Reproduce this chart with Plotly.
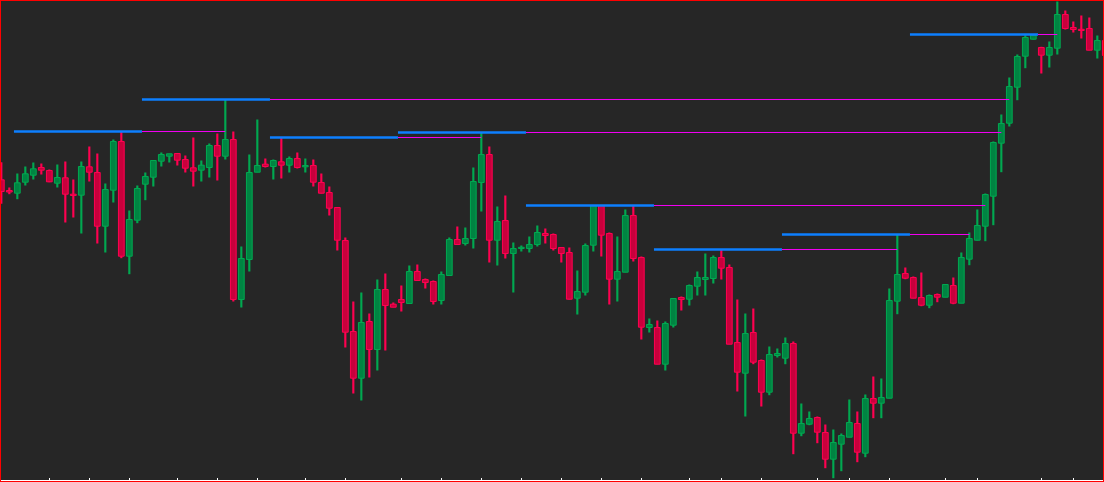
import plotly.graph_objects as go

# OHLC values (arbitrary price units)
opens = [300.7, 290, 287.3, 298.3, 305.3, 313, 310, 297.3, 302.7, 286.3,
         285.3, 313.7, 308, 254.3, 290.3, 339, 224.3, 260.3, 296.3, 303.3,
         319.3, 324.3, 327, 321, 312.7, 310.3, 313, 335, 324.3, 341,
         181, 221, 308.3, 316.3, 314, 318.7, 315.3, 322, 313.7, 315,
         298, 288, 273, 240, 149, 102.3, 159, 131, 191, 176.3,
         181, 177, 209, 201, 199, 180, 205, 241, 237, 242,
         298, 326, 240.3, 260, 227, 232, 232, 236, 247, 246,
         233, 228, 182.3, 188.3, 235.3, 275, 247, 201.3, 208.3, 265,
         223, 153, 153, 116.3, 155.3, 183, 181.3, 194.3, 201, 202,
         223, 213, 138, 107.3, 148, 120, 88.3, 125, 122.3, 137,
         47.3, 56.3, 63, 48, 21.3, 36.3, 43.3, 57, 27.3, 82,
         77.3, 82.3, 179.3, 207, 203, 183, 175.3, 186, 183.3, 195,
         177.3, 221.3, 240.3, 254.3, 284.3, 337.3, 357.3, 393.3, 424.3, 441.3,
         433, 425.3, 432.3, 466, 453, 451, 452, 430.3, 440]
highs = [318.3, 293, 307, 314, 318, 317, 311, 316, 319, 301,
         319, 334, 327, 297, 341, 349, 270, 295, 308, 320,
         328, 326.7, 327, 325, 343, 320, 337, 347, 381, 349,
         234, 326, 361, 322, 321, 343, 324, 328, 322, 321,
         307, 294, 273, 243, 179, 188, 167, 201, 207, 178,
         195, 215, 216, 202, 200, 209, 243, 254, 253, 313,
         348, 334, 274, 285, 238, 235, 244, 255, 252, 247,
         233, 233, 210, 237, 275, 275, 248, 244, 271, 275,
         224, 162, 160, 159, 182, 184, 196, 209, 227, 225,
         231, 216, 181, 167, 172, 121, 134, 132, 143, 139,
         77, 69, 64, 56, 51, 47, 81, 69, 86, 104,
         102, 192, 246, 213, 204, 208, 186, 187, 196, 203,
         228, 248, 271, 287, 339, 366, 403, 426, 445.3, 446,
         433.7, 439, 479, 470, 459, 465, 463, 445, 445]
lows = [276.7, 286.3, 281.3, 295, 301, 306, 298.3, 293, 258, 263,
        247, 299, 237, 228, 278, 222.3, 206.3, 257.3, 280.3, 294,
        314, 318, 315, 308, 294, 299, 303, 300, 321, 179,
        173, 209, 308.3, 313, 301, 302, 308, 312, 308, 294,
        287, 265, 230, 133, 87, 80, 103, 110, 130, 173.3,
        169, 177, 200, 192, 176, 176, 205, 236, 235, 232,
        269, 218, 215, 222, 188, 229, 228, 234, 237, 230,
        218, 181, 166, 185, 229, 224, 176, 179, 208.3, 219,
        141, 148, 116.3, 110, 153, 170, 175, 185, 185, 197,
        201, 136.3, 89, 64, 116.3, 74, 85.3, 123, 116.3, 26.3,
        44.3, 55.3, 37.3, 12.3, 2.3, 9.3, 43.3, 18.3, 23.3, 62.3,
        62.3, 82.3, 166.3, 201.3, 182.3, 174.3, 172.3, 178.3, 183.3, 176.3,
        177.3, 215.3, 240, 239.3, 255.3, 308.3, 354, 380.3, 412.3, 441,
        407, 413, 426, 451, 448, 442, 430.3, 422, 422]
closes = [289, 288.5, 297.7, 306.7, 311.7, 310.3, 298.7, 303, 286.3, 285,
          314, 308.3, 254.3, 291, 339, 224.3, 261, 292, 304, 320,
          326, 326.7, 320.3, 312.3, 309.3, 315.3, 335, 324.3, 341, 181,
          222, 308, 315, 314, 320, 315.3, 322, 313, 315, 298.3,
          287.3, 272.3, 240.3, 148.3, 102.3, 158, 131, 191, 175, 173.3,
          178, 209, 200, 198, 179, 206, 241, 236, 242, 299,
          326, 240.3, 259, 227, 232, 233, 236, 248, 245, 232,
          227, 181.3, 189, 235, 275, 245.3, 201.3, 209, 265, 222,
          153.3, 156, 116.3, 157, 182, 181, 195, 203, 203, 223,
          212.3, 136.3, 108.3, 147, 118.3, 88.3, 126, 127, 137, 47.3,
          57, 62, 48.3, 21.3, 38, 45, 58, 28.3, 82, 77.3,
          83, 180, 206, 202.3, 182.3, 175.3, 185, 183.3, 196, 177.3,
          223, 242, 255, 286, 338, 357, 394, 424, 443, 445.3,
          425.3, 433, 466, 452, 451, 450, 430.3, 440, 425]

# bars where the time axis puts a tick
tick_bars = [0, 6, 11, 16, 22, 27, 32, 38, 43, 50, 55, 60, 65, 70, 75, 80,
             86, 90, 95, 102, 106, 111, 118, 122, 130, 134]

# period high indicator: first period starts at bar 2, 16 bars each
period_start = 2
period_len = 16

UP_LINE, UP_FILL = '#00a850', '#008442'
DN_LINE, DN_FILL = '#ff0050', '#c8003c'

n = len(closes)
xs = list(range(n))
up = [c >= o for o, c in zip(opens, closes)]

fig = go.Figure()

# wicks
fig.add_trace(go.Bar(
    x=xs, base=lows, y=[h - l for h, l in zip(highs, lows)],
    width=0.27,
    marker=dict(color=[UP_LINE if u else DN_LINE for u in up], line=dict(width=0)),
    hoverinfo='skip', showlegend=False))

# bodies
fig.add_trace(go.Bar(
    x=xs, base=[min(o, c) for o, c in zip(opens, closes)],
    y=[max(abs(c - o), 1.2) for o, c in zip(opens, closes)],
    width=0.72,
    marker=dict(color=[UP_FILL if u else DN_FILL for u in up],
                line=dict(color=[UP_LINE if u else DN_LINE for u in up], width=1)),
    hoverinfo='skip', showlegend=False))

# period highs (blue) and their extension until price trades through (magenta)
for s in range(period_start, n - period_len + 1, period_len):
    e = s + period_len
    level = max(highs[s:e])
    brk = next((k for k in range(e, n) if highs[k] >= level), n - 1)
    fig.add_trace(go.Scatter(x=[e - 0.42, brk], y=[level, level], mode='lines',
                             line=dict(color='#f000f0', width=1),
                             hoverinfo='skip', showlegend=False))
    fig.add_trace(go.Scatter(x=[s - 0.42, e - 0.42], y=[level, level], mode='lines',
                             line=dict(color='#0d7fff', width=2.5),
                             hoverinfo='skip', showlegend=False))

fig.update_layout(
    width=1104, height=482,
    margin=dict(l=1, r=1, t=1, b=2, pad=0, autoexpand=False),
    paper_bgcolor='#ff0000',
    plot_bgcolor='#262626',
    barmode='overlay',
    xaxis=dict(range=[-0.04, 137.71], showgrid=False, zeroline=False,
               showline=True, linecolor='#ffffff', linewidth=1,
               tickmode='array', tickvals=tick_bars, ticks='inside',
               ticklen=2, tickcolor='#ffffff', tickwidth=1,
               showticklabels=False, fixedrange=True),
    # half-unit offset keeps the 1px level lines on whole pixel rows
    yaxis=dict(range=[0.5, 479.5], showgrid=False, zeroline=False,
               showticklabels=False, ticks='', fixedrange=True),
)

fig.write_html("out.html", config={'displayModeBar': False},
               post_script="document.body.style.margin='0';")
